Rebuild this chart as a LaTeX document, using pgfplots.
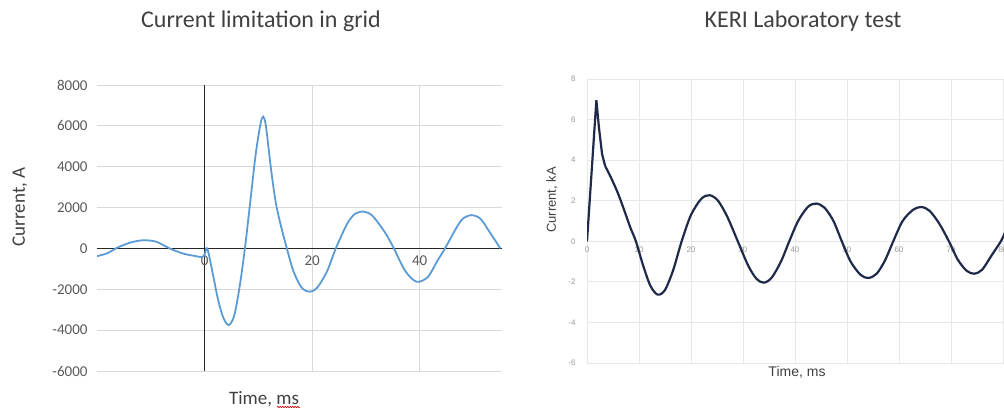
\documentclass[border=0pt]{standalone}
\usepackage{pgfplots}
\pgfplotsset{compat=1.18}
\usepackage{fontspec}
\setmainfont{Carlito}
\newfontfamily\arial{Liberation Sans}
\usetikzlibrary{decorations.pathmorphing}
\definecolor{lblue}{HTML}{5B9BD5}
\definecolor{navy}{HTML}{1F2A4A}
\definecolor{txt}{HTML}{404040}
\definecolor{tick}{HTML}{595959}
\begin{document}
\begin{tikzpicture}
\useasboundingbox (0,0) rectangle (1004bp,410bp);
% ---------------- left chart ----------------
\begin{axis}[
  at={(97bp,39bp)}, anchor=south west,
  width=405bp, height=286bp, scale only axis,
  xmin=-20, xmax=55.3, ymin=-6000, ymax=8000,
  axis x line=middle, axis y line=left,
  x axis line style={-, draw=black!85, line width=1.1bp},
  y axis line style={draw=none},
  xtick={-20,20,40}, xticklabels={-20,20,40},
  extra x ticks={0}, extra x tick labels={0},
  extra x tick style={major grid style={draw=black!85, line width=1.1bp}},
  ytick={-6000,-4000,-2000,0,2000,4000,6000,8000},
  yticklabels={-6000,-4000,-2000,0,2000,4000,6000,8000},
  major tick length=0pt,
  grid=major, major grid style={draw=black!15, line width=0.8bp},
  xticklabel style={font=\fontsize{15bp}{15bp}\selectfont, text=tick, yshift=-4bp},
  yticklabel style={font=\fontsize{15bp}{15bp}\selectfont, text=tick, xshift=-6bp},
  clip=true,
]
\addplot[lblue, line width=1.8bp, smooth] coordinates {
(-20,-380) (-18,-230) (-16.5,0) (-14,270) (-11.5,400) (-9,330) (-6.5,0) (-4,-250) (-2,-360) (-0.5,-420) (0,-300) (0.5,0)
(1.5,-1200) (2.5,-2500) (3.5,-3400) (4.5,-3750) (5.5,-3300) (6.5,-1900) (7.5,0) (8.5,2300) (9.5,4600) (10.4,6100) (10.9,6450) (11.4,6000) (12.3,4000) (13.2,2300) (14.2,1100) (15.3,0) (16.5,-1100) (18,-1900) (19.5,-2120) (21,-1900) (22.8,-1100) (24.4,0) (26.5,1200) (28,1700) (29.6,1800) (31.2,1600) (33.5,800) (35.2,0) (37.3,-1100) (39.4,-1630) (41.5,-1400) (43.3,-600) (44.7,0) (46.8,1000) (48,1450) (49.6,1630) (51.3,1450) (53,800) (55,0)
};
\end{axis}
% ---------------- right chart ----------------
\begin{axis}[
  at={(587bp,47bp)}, anchor=south west,
  width=417bp, height=284bp, scale only axis,
  xmin=0, xmax=80.2, ymin=-6, ymax=8,
  axis x line=middle, axis y line=left,
  hide obscured x ticks=false,
  x axis line style={-, draw=black!10},
  y axis line style={draw=none},
  xtick={0,10,20,30,40,50,60,70,80}, xticklabels={0,10,20,30,40,50,60,70,80},
  ytick={-6,-4,-2,0,2,4,6,8}, yticklabels={-6,-4,-2,0,2,4,6,8},
  major tick length=0pt,
  grid=major, major grid style={draw=black!9, line width=0.8bp},
  xticklabel style={font=\arial\fontsize{8bp}{8bp}\selectfont, text=black!40, yshift=-2bp},
  yticklabel style={font=\arial\fontsize{8bp}{8bp}\selectfont, text=black!40, xshift=-8bp},
  clip=true,
]
\addplot[navy, line width=2.2bp] coordinates {
(0,0) (1.8,6.95) (2.3,5.6) (2.9,4.3) (3.5,3.7)
};
\addplot[navy, line width=2.2bp, smooth] coordinates {
(3.5,3.7) (4.5,3.2) (5.9,2.4) (7.2,1.5) (8.3,0.7) (9.4,0) (10.8,-1.2) (12.2,-2.2) (13.6,-2.63) (15,-2.4) (16.6,-1.4) (18.2,0) (20,1.3) (22,2.1) (23.6,2.27) (25.2,2.0) (27,1.2) (29,0) (31,-1.2) (32.6,-1.85) (34,-2.04) (35.5,-1.8) (37.3,-1.0) (38.9,0) (40.6,1.0) (42.5,1.7) (44.1,1.86) (45.7,1.65) (47.4,1.0) (49,0) (50.7,-1.0) (52.6,-1.65) (54.1,-1.81) (55.7,-1.6) (57.3,-0.95) (58.9,0) (60.7,1.0) (62.7,1.55) (64.3,1.69) (65.9,1.5) (67.8,0.85) (69.6,0) (71.3,-0.9) (73,-1.45) (74.5,-1.6) (76,-1.4) (77.8,-0.7) (79.6,0) (80.5,0.5)
};
\end{axis}
% ---------------- titles and labels ----------------
\node[text=txt, font=\fontsize{24bp}{24bp}\selectfont] at (261bp,389bp) {Current limitation in grid};
\node[text=txt, font=\fontsize{24bp}{24bp}\selectfont] at (803bp,389bp) {KERI Laboratory test};
\node[text=txt, font=\fontsize{19bp}{19bp}\selectfont] at (264bp,11bp) {Time, ms};
\draw[red!80!black, line width=0.6bp, decorate, decoration={snake, amplitude=0.7bp, segment length=2.5bp}] (277bp,3bp) -- (300bp,3bp);
\node[text=txt, rotate=90, font=\fontsize{19bp}{19bp}\selectfont] at (20bp,203bp) {Current, A};
\node[text=txt, font=\arial\fontsize{14bp}{14bp}\selectfont] at (797bp,38bp) {Time, ms};
\node[text=txt, rotate=90, font=\arial\fontsize{13bp}{13bp}\selectfont] at (552bp,210bp) {Current, kA};
\end{tikzpicture}
\end{document}
